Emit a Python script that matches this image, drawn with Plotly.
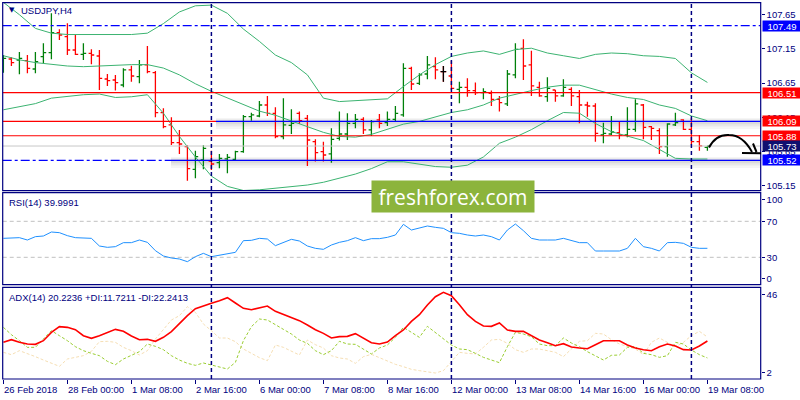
import plotly.graph_objects as go

# USDJPY H4 bars, 26 Feb 2018 - 19 Mar 2018
opens = [106.978, 107.002, 106.988, 106.978, 106.856, 107.037, 107.095, 107.387, 107.329, 107.134,
         107.071, 107.085, 107.046, 106.710, 106.695, 106.622, 106.842, 106.744, 106.915, 106.803,
         106.218, 106.038, 105.779, 105.721, 105.389, 105.526, 105.511, 105.487, 105.541, 105.536,
         105.648, 106.159, 106.169, 106.330, 106.208, 105.867, 106.033, 106.208, 106.135, 105.794,
         105.648, 105.614, 105.843, 105.906, 106.062, 106.120, 105.965, 106.111, 106.072, 106.120,
         106.184, 106.866, 106.647, 106.783, 106.890, 106.817, 106.754, 106.559, 106.588, 106.540,
         106.510, 106.501, 106.413, 106.345, 106.769, 107.158, 106.915, 106.588, 106.452, 106.549,
         106.462, 106.559, 106.452, 106.330, 106.315, 105.891, 105.906, 105.926, 105.891, 105.974,
         106.330, 106.013, 105.955, 105.721, 106.038, 106.111, 105.974, 105.794, 105.711]
highs = [107.061, 107.027, 107.105, 107.061, 107.105, 107.231, 107.670, 107.436, 107.524, 107.353,
         107.231, 107.144, 107.134, 106.783, 106.769, 106.866, 106.905, 106.988, 107.193, 106.827,
         106.281, 106.150, 105.965, 105.740, 105.662, 105.740, 105.662, 105.614, 105.614, 105.662,
         106.184, 106.218, 106.388, 106.462, 106.296, 106.427, 106.267, 106.233, 106.184, 105.828,
         105.794, 105.989, 106.233, 106.208, 106.198, 106.150, 106.111, 106.198, 106.233, 106.315,
         106.939, 106.890, 106.793, 107.046, 107.027, 106.900, 106.978, 106.671, 106.720, 106.657,
         106.574, 106.540, 106.462, 106.842, 107.231, 107.290, 107.124, 106.671, 106.734, 106.549,
         106.705, 106.588, 106.549, 106.379, 106.354, 106.072, 106.169, 106.086, 106.296, 106.413,
         106.345, 106.023, 105.989, 106.062, 106.218, 106.120, 106.135, 105.891, 105.731]
lows = [106.803, 106.900, 106.778, 106.793, 106.793, 106.939, 106.998, 107.280, 107.061, 107.061,
        106.988, 106.925, 106.549, 106.608, 106.540, 106.588, 106.671, 106.647, 106.793, 106.150,
        105.989, 105.745, 105.614, 105.224, 105.258, 105.389, 105.380, 105.404, 105.331, 105.526,
        105.633, 106.101, 106.150, 106.169, 105.843, 105.828, 105.906, 106.052, 105.438, 105.502,
        105.502, 105.487, 105.809, 105.818, 105.989, 105.906, 105.877, 105.989, 106.023, 106.086,
        106.159, 106.549, 106.622, 106.705, 106.705, 106.671, 106.549, 106.354, 106.452, 106.476,
        106.413, 106.315, 106.233, 106.315, 106.720, 106.695, 106.462, 106.452, 106.379, 106.379,
        106.452, 106.315, 106.062, 106.159, 105.794, 105.770, 105.891, 105.828, 105.857, 105.940,
        105.828, 105.818, 105.614, 105.575, 106.023, 105.965, 105.745, 105.662, 105.662]
closes = [107.012, 106.949, 107.012, 106.866, 106.964, 107.095, 107.387, 107.353, 107.134, 107.071,
          107.085, 107.061, 106.720, 106.686, 106.657, 106.842, 106.754, 106.915, 106.817, 106.218,
          106.013, 105.779, 105.760, 105.399, 105.575, 105.697, 105.467, 105.550, 105.565, 105.648,
          106.159, 106.184, 106.330, 106.208, 105.867, 106.038, 106.062, 106.101, 105.818, 105.633,
          105.599, 105.828, 105.906, 106.062, 106.120, 105.965, 106.086, 106.062, 106.120, 106.208,
          106.866, 106.637, 106.769, 106.915, 106.842, 106.817, 106.574, 106.588, 106.540, 106.510,
          106.525, 106.413, 106.364, 106.783, 107.144, 106.900, 106.608, 106.462, 106.574, 106.462,
          106.588, 106.462, 106.330, 106.315, 105.916, 105.916, 105.935, 105.891, 105.974, 106.345,
          106.004, 105.989, 105.721, 106.052, 106.072, 105.974, 105.794, 105.731, 105.731]

# Bollinger bands, read every second bar
bb_upper = [107.83, 107.65, 107.45, 107.38, 107.36, 107.36, 107.36, 107.36, 107.36, 107.38,
            107.52, 107.69, 107.78, 107.79, 107.67, 107.44, 107.26, 107.06, 106.95, 106.77,
            106.43, 106.38, 106.39, 106.40, 106.42, 106.60, 106.77, 106.92, 107.04, 107.09,
            107.12, 107.07, 107.14, 107.16, 107.09, 107.05, 107.01, 107.07, 107.09, 107.08,
            107.05, 107.04, 107.01, 106.80, 106.66]
bb_mid = [107.05, 106.99, 106.95, 106.92, 106.90, 106.89, 106.90, 106.92, 106.92, 106.92,
          106.87, 106.77, 106.64, 106.53, 106.43, 106.33, 106.24, 106.18, 106.10, 106.02,
          105.93, 105.87, 105.86, 105.90, 105.98, 106.05, 106.09, 106.16, 106.22, 106.26,
          106.33, 106.43, 106.49, 106.54, 106.59, 106.62, 106.62, 106.55, 106.49, 106.44,
          106.41, 106.33, 106.28, 106.17, 106.10]
bb_lower = [106.26, 106.30, 106.35, 106.43, 106.46, 106.48, 106.49, 106.44, 106.45, 106.48,
            106.21, 105.87, 105.57, 105.29, 105.14, 105.08, 105.09, 105.11, 105.13, 105.16,
            105.20, 105.26, 105.32, 105.40, 105.50, 105.50, 105.47, 105.43, 105.42, 105.45,
            105.57, 105.77, 105.86, 105.97, 106.10, 106.22, 106.21, 106.06, 105.94, 105.88,
            105.81, 105.68, 105.55, 105.54, 105.54]

rsi = [51.07, 51.07, 51.81, 49.22, 52.92, 53.66, 58.11, 57.37, 54.03, 51.81,
       51.07, 51.07, 42.55, 41.07, 41.81, 46.26, 46.26, 49.22, 46.63, 37.37,
       31.44, 29.22, 28.11, 25.14, 30.70, 34.40, 30.70, 32.18, 33.66, 35.51,
       48.48, 48.85, 51.07, 50.33, 42.92, 46.63, 49.96, 48.11, 42.55, 39.96,
       38.85, 43.66, 46.63, 48.48, 51.81, 48.48, 50.70, 50.70, 52.18, 54.78,
       66.63, 60.33, 62.92, 64.78, 63.30, 62.18, 57.37, 56.63, 54.78, 53.66,
       54.78, 52.92, 49.22, 60.33, 67.00, 59.59, 51.07, 49.22, 49.22, 49.22,
       51.07, 48.48, 46.26, 46.26, 37.00, 37.00, 37.37, 37.00, 39.96, 51.07,
       41.81, 39.96, 37.00, 46.26, 46.63, 45.52, 41.07, 39.96, 40.00]

adx = [19.56, 20.90, 19.56, 18.73, 18.56, 20.40, 24.59, 27.43, 27.10, 25.93,
       22.91, 21.57, 22.91, 24.42, 26.09, 25.09, 22.75, 20.90, 21.07, 20.07,
       22.08, 24.92, 29.11, 32.96, 36.47, 37.64, 39.15, 40.49, 42.00, 39.32,
       36.64, 35.97, 36.81, 37.81, 35.13, 33.46, 32.12, 30.45, 28.27, 25.93,
       24.08, 21.74, 22.41, 22.58, 23.92, 21.74, 19.40, 18.73, 19.73, 22.91,
       25.76, 30.11, 33.46, 38.31, 42.50, 44.68, 43.00, 38.48, 33.46, 30.11,
       27.77, 27.60, 29.27, 25.76, 25.09, 25.09, 22.75, 20.74, 19.40, 17.89,
       18.90, 17.22, 16.72, 16.38, 18.39, 20.40, 20.40, 20.40, 18.23, 16.72,
       15.88, 15.38, 17.39, 18.73, 17.72, 15.88, 15.71, 17.72, 20.22]
plus_di = [27.10, 23.42, 20.40, 17.05, 17.05, 21.24, 25.42, 22.91, 20.40, 17.39,
           15.38, 14.04, 12.87, 10.02, 8.35, 11.19, 12.87, 14.88, 18.73, 17.56,
           15.88, 12.87, 10.69, 9.02, 8.01, 9.19, 8.18, 7.01, 6.17, 9.52,
           20.40, 27.43, 31.28, 30.78, 28.27, 26.09, 23.75, 20.74, 19.06, 15.38,
           13.37, 15.38, 20.07, 18.73, 18.56, 16.22, 13.71, 16.72, 18.23, 22.08,
           27.10, 24.59, 22.08, 27.60, 24.59, 21.57, 18.23, 16.22, 15.88, 14.04,
           12.03, 10.69, 9.35, 17.39, 24.59, 23.75, 22.41, 18.73, 17.89, 17.89,
           21.74, 19.23, 17.39, 14.88, 12.87, 10.69, 13.04, 13.20, 17.05, 17.39,
           14.04, 13.37, 12.03, 12.87, 19.56, 18.73, 15.71, 13.37, 11.72]
minus_di = [14.54, 13.37, 15.38, 14.04, 12.37, 10.69, 9.19, 7.51, 11.19, 11.87,
            12.87, 15.05, 19.90, 20.07, 19.56, 17.05, 15.38, 13.20, 15.38, 21.24,
            26.26, 30.78, 32.96, 37.48, 34.63, 28.77, 25.42, 21.74, 21.74, 19.90,
            16.22, 14.04, 11.87, 10.36, 18.23, 17.05, 15.05, 13.20, 20.74, 18.39,
            16.72, 12.87, 11.70, 11.19, 9.02, 12.37, 13.54, 11.87, 9.86, 8.52,
            7.34, 6.01, 5.34, 4.67, 4.16, 5.34, 10.02, 14.54, 14.04, 13.71,
            17.05, 20.74, 21.07, 19.06, 15.88, 14.54, 16.22, 16.22, 15.38, 14.54,
            12.37, 16.22, 20.07, 20.40, 24.08, 23.75, 20.90, 18.73, 17.39, 16.22,
            13.37, 19.56, 21.74, 19.56, 17.39, 19.56, 22.91, 25.09, 22.24]

# time axis labels (every 8th bar) and weekly separators
tick_idx = [0, 8, 16, 24, 32, 40, 48, 56, 64, 72, 80, 88]
tick_labels = ['26 Feb 2018', '28 Feb 00:00', '1 Mar 08:00', '2 Mar 16:00', '6 Mar 00:00',
               '7 Mar 08:00', '8 Mar 16:00', '12 Mar 00:00', '13 Mar 08:00', '14 Mar 16:00',
               '16 Mar 00:00', '19 Mar 08:00']
week_starts = [26, 56, 86]

price_ticks = [107.65, 107.15, 106.65, 106.15, 105.65, 105.15]
level_vals = [107.49, 106.51, 106.09, 105.88, 105.73, 105.52]
level_colors = ['#0000ff', '#ff0000', '#ff0000', '#ff0000', '#101070', '#0000ff']

NAVY = '#000080'
FONT = 'Liberation Sans'
n = len(closes)
bar_idx = list(range(n))
bb_idx = list(range(0, n, 2))


def px(x):
    return x / 800


def py(y):
    return 1 - y / 400


XL, XR = px(2.7), px(760.7)
main_dom = [py(190.7), py(2.7)]
rsi_dom = [py(284.7), py(192.7)]
adx_dom = [py(379), py(287.3)]

fig = go.Figure()

# price panel
for band in (bb_upper, bb_mid, bb_lower):
    fig.add_trace(go.Scatter(x=bb_idx, y=band, mode='lines', line=dict(color='#3cb371', width=1),
                             xaxis='x', yaxis='y', hoverinfo='skip'))

fig.add_trace(go.Ohlc(x=bar_idx, open=opens, high=highs, low=lows, close=closes,
                      increasing=dict(line=dict(color='#00800a', width=1.3)),
                      decreasing=dict(line=dict(color='#ff0000', width=1.3)),
                      tickwidth=0.35, xaxis='x', yaxis='y', hoverinfo='skip'))

doji = [i for i in bar_idx if opens[i] == closes[i]]
fig.add_trace(go.Ohlc(x=doji, open=[opens[i] for i in doji], high=[highs[i] for i in doji],
                      low=[lows[i] for i in doji], close=[closes[i] for i in doji],
                      increasing=dict(line=dict(color='black', width=1.3)),
                      decreasing=dict(line=dict(color='black', width=1.3)),
                      tickwidth=0.35, xaxis='x', yaxis='y', hoverinfo='skip'))

# RSI panel
fig.add_trace(go.Scatter(x=bar_idx, y=rsi, mode='lines', line=dict(color='#1e90ff', width=1),
                         xaxis='x', yaxis='y2', hoverinfo='skip'))

# ADX panel
fig.add_trace(go.Scatter(x=bar_idx, y=minus_di, mode='lines',
                         line=dict(color='#f5deb3', width=1, dash='3px,2px'),
                         xaxis='x', yaxis='y3', hoverinfo='skip'))
fig.add_trace(go.Scatter(x=bar_idx, y=plus_di, mode='lines',
                         line=dict(color='#9acd32', width=1, dash='3px,2px'),
                         xaxis='x', yaxis='y3', hoverinfo='skip'))
fig.add_trace(go.Scatter(x=bar_idx, y=adx, mode='lines', line=dict(color='#ff0000', width=1.6),
                         xaxis='x', yaxis='y3', hoverinfo='skip'))

shapes = []


def hline(level, x0, x1, color, dash='solid', width=1.2, layer='above'):
    shapes.append(dict(type='line', xref='paper', yref='y', x0=x0, x1=x1, y0=level, y1=level,
                       line=dict(color=color, width=width, dash=dash), layer=layer))


def shadow(level, x0):
    for lo, hi, a in ((0.11, 0.05, 0.04), (0.075, 0.03, 0.05), (0.04, 0.015, 0.06)):
        shapes.append(dict(type='rect', xref='paper', yref='y', x0=x0, x1=XR,
                           y0=level - lo, y1=level + hi, fillcolor=f'rgba(0,0,0,{a})',
                           line=dict(width=0), layer='below'))


shadow(level_vals[2], px(216))
shadow(level_vals[5], px(171))
hline(level_vals[0], XL, XR, '#0000ff', dash='dashdot')
hline(level_vals[1], XL, XR, '#ff0000')
hline(level_vals[2], XL, px(216), '#ff0000')
hline(level_vals[2], px(216), XR, '#0000ff')
hline(level_vals[3], XL, XR, '#ff0000')
hline(level_vals[4], XL, XR, '#c8c8c8', width=1)
hline(level_vals[5], XL, px(171), '#0000ff', dash='dashdot')
hline(level_vals[5], px(171), XR, '#0000ff')

# RSI levels
for lv in (70, 30):
    shapes.append(dict(type='line', xref='paper', yref='y2', x0=XL, x1=XR, y0=lv, y1=lv,
                       line=dict(color='#c0c0c0', width=1, dash='4px,3px'), layer='below'))

# weekly separators
for w in week_starts:
    shapes.append(dict(type='line', xref='x', yref='paper', x0=w, x1=w, y0=adx_dom[0], y1=main_dom[1],
                       line=dict(color=NAVY, width=1.5, dash='4px,3px')))

# panel frames
for dom in (main_dom, rsi_dom, adx_dom):
    shapes.append(dict(type='rect', xref='paper', yref='paper', x0=XL, x1=XR, y0=dom[0], y1=dom[1],
                       line=dict(color=NAVY, width=1.2), fillcolor='rgba(0,0,0,0)'))

# hand drawn arrow
def pt(x, y):
    return f'{px(x):.5f},{py(y):.5f}'


shapes.append(dict(type='path', xref='paper', yref='paper',
                   path=f'M {pt(709, 147.5)} C {pt(714, 138)} {pt(721, 134.5)} {pt(729, 135)} '
                        f'C {pt(739, 135)} {pt(746, 141)} {pt(752, 152)}',
                   line=dict(color='black', width=2)))
shapes.append(dict(type='path', xref='paper', yref='paper',
                   path=f'M {pt(742, 153)} L {pt(761, 153.3)} M {pt(753, 143.5)} L {pt(756.5, 152)}',
                   line=dict(color='black', width=2)))

annotations = []
# price level boxes on the right
for lv, col in zip(level_vals, level_colors):
    annotations.append(dict(x=px(761.7), xref='paper', y=lv, yref='y', xanchor='left', yanchor='middle',
                            text=f'{lv:.2f}', showarrow=False, bgcolor=col, width=37, height=9,
                            borderpad=0.5, font=dict(family=FONT, size=9.5, color='white')))

# time labels
for ti, tl in zip(tick_idx, tick_labels):
    annotations.append(dict(x=ti, xref='x', y=py(389), yref='paper', xanchor='left', yanchor='middle',
                            text=tl, showarrow=False, xshift=-1,
                            font=dict(family=FONT, size=9.5, color=NAVY)))

# panel captions
caption = dict(xref='paper', yref='paper', xanchor='left', yanchor='middle', showarrow=False,
               font=dict(family=FONT, size=9.5, color=NAVY))
annotations += [
    dict(x=px(6.5), y=py(10.5), xref='paper', yref='paper', xanchor='left', yanchor='middle',
         text='▼', showarrow=False, font=dict(family='DejaVu Sans', size=7, color=NAVY)),
    dict(caption, x=px(18.5), y=py(11), text='USDJPY,H4'),
    dict(caption, x=px(7), y=py(202), text='RSI(14) 39.9991'),
    dict(caption, x=px(7), y=py(297.5), text='ADX(14) 20.2236 +DI:11.7211 -DI:22.2413'),
    dict(x=px(371), y=py(180), xref='paper', yref='paper', xanchor='left', yanchor='top',
         text='freshforex.com', showarrow=False, bgcolor='#8cb43c', width=160, height=29,
         borderpad=1, font=dict(family='Open Sans', size=21, color='white')),
]

axis_common = dict(showgrid=False, zeroline=False, showline=False, ticks='outside', ticklen=3,
                   tickcolor=NAVY, tickfont=dict(family=FONT, size=9.5, color=NAVY))

fig.update_layout(
    width=800, height=400, margin=dict(l=0, r=0, t=0, b=0),
    paper_bgcolor='white', plot_bgcolor='white', showlegend=False,
    xaxis=dict(domain=[XL, XR], range=[-0.0875, 94.6625], anchor='y3', showgrid=False,
               zeroline=False, showline=False, showticklabels=False, ticks='outside',
               tickvals=tick_idx, ticklen=4, tickcolor=NAVY, rangeslider=dict(visible=False)),
    yaxis=dict(domain=main_dom, range=[105.0769, 107.8254], side='right', anchor='x',
               tickvals=price_ticks, ticktext=[f'{v:.2f}' for v in price_ticks], **axis_common),
    yaxis2=dict(domain=rsi_dom, range=[-0.444, 101.78], side='right', anchor='x',
                tickvals=[94.5, 70, 30, 6], ticktext=['100', '70', '30', '0'], **axis_common),
    yaxis3=dict(domain=adx_dom, range=[1.15, 47.21], side='right', anchor='x',
                tickvals=[43.5, 4.5], ticktext=['46', '2'], **axis_common),
    shapes=shapes, annotations=annotations,
)

# the page's default body margin would push the 800x400 figure out of the window
fig.write_html("out.html", config={'displayModeBar': False},
               post_script="document.body.style.margin = '0px';")
